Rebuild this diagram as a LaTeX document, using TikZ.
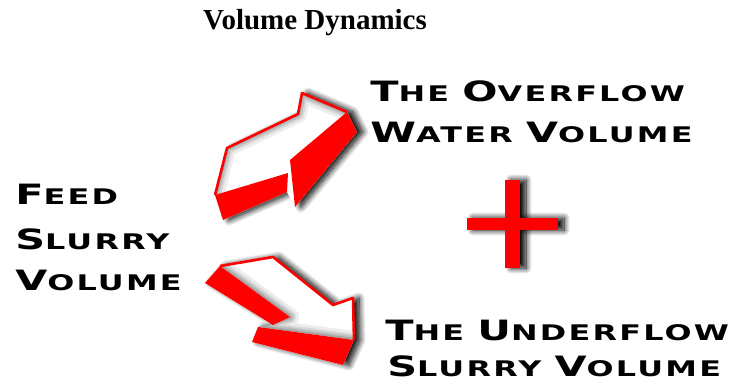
\documentclass[tikz,border=0pt]{standalone}
\usepackage{fontspec}
\setmainfont{Liberation Serif}
\newfontfamily\lblfont[LetterSpace=7]{DejaVu Sans Bold}
\usetikzlibrary{shadows.blur}

\newcommand\scword[2]{{\fontsize{28}{30}\selectfont #1}{\fontsize{21.5}{24}\selectfont #2}}
\newcommand\wgap{\hspace{9pt}}

\tikzset{
  wordline/.style={anchor=base west,inner sep=0pt,xscale=1.48,font=\lblfont},
  soft3d/.style={blur shadow={shadow xshift=6pt,shadow yshift=0pt,shadow blur radius=6pt,shadow blur steps=12,shadow opacity=100}}
}

\begin{document}
\begin{tikzpicture}[x=1pt,y=-1pt]
\useasboundingbox (0,0) rectangle (741,383);

\node[anchor=base west,inner sep=0pt,font=\bfseries\fontsize{29}{30}\selectfont] (title) at (203,29) {Volume Dynamics};

% upper arrow
\coordinate (U1) at (215,195);
\coordinate (U2) at (227,148);
\coordinate (U3) at (298,114);
\coordinate (U4) at (302,93);
\coordinate (U5) at (347,112);
\coordinate (U6) at (290,160);
\coordinate (U7) at (288,173);
\coordinate (U8) at (223,220);
\coordinate (U9) at (287,192);
\coordinate (U10) at (295,207);
\coordinate (U11) at (357,132);

\fill[white,soft3d] (U1)--(U2)--(U3)--(U4)--(U5)--(U11)--(U10)--(U9)--(U8)--cycle;
\fill[white] (U1)--(U2)--(U3)--(U4)--(U5)--(U6)--(U7)--cycle;
\begin{scope}
\clip (U1)--(U2)--(U3)--(U4)--(U5)--(U6)--(U7)--cycle;
\foreach \w/\o in {18/0.07,12/0.09,8/0.11,4/0.14}
  \draw[black,opacity=\o,line width=\w pt,line join=round] (U1)--(U2)--(U3)--(U4)--(U5);
\end{scope}
\draw[red,line width=2.6pt,line join=round] (U1)--(U2)--(U3)--(U4)--(U5);
\fill[red] (U1)--(U7)--(U9)--(U8)--cycle;
\fill[red] (U6)--(U10)--(U11)--(U5)--cycle;

% lower arrow
\coordinate (L1) at (220,266);
\coordinate (L2) at (273,257);
\coordinate (L3) at (333,305);
\coordinate (L4) at (353,298);
\coordinate (L5) at (354,340);
\coordinate (L6) at (258,327);
\coordinate (L7) at (290,317);
\coordinate (L8) at (273,325);
\coordinate (L9) at (205,283);
\coordinate (L10) at (343,365);
\coordinate (L11) at (252,342);

\fill[white,soft3d] (L9)--(L1)--(L2)--(L3)--(L4)--(L5)--(L10)--(L11)--(L6)--(L8)--cycle;
\fill[white] (L1)--(L2)--(L3)--(L4)--(L5)--(L6)--(L7)--cycle;
\begin{scope}
\clip (L1)--(L2)--(L3)--(L4)--(L5)--(L6)--(L7)--cycle;
\foreach \w/\o in {18/0.07,12/0.09,8/0.11,4/0.14}
  \draw[black,opacity=\o,line width=\w pt,line join=round] (L5)--(L6)--(L7)--(L1);
\end{scope}
\draw[red,line width=2.6pt,line join=round] (L1)--(L2)--(L3)--(L4)--(L5);
\fill[red] (L1)--(L7)--(L8)--(L9)--cycle;
\fill[red] (L6)--(L5)--(L10)--(L11)--cycle;

% plus sign
\fill[red,soft3d] (505,180) rectangle (520,268);
\fill[red,soft3d] (467,218) rectangle (558,230);
\fill[red] (505,180) rectangle (520,268);

% words
\node[wordline] (over) at (370,101) {\scword{T}{HE}\wgap\scword{O}{VERFLOW}};
\node[wordline] (water) at (370,142) {\scword{W}{ATER}\wgap\scword{V}{OLUME}};
\node[wordline] (feed) at (15,204) {\scword{F}{EED}};
\node[wordline] (slurry) at (15,249) {\scword{S}{LURRY}};
\node[wordline] (volume) at (15,290) {\scword{V}{OLUME}};
\node[wordline] (under) at (385,340) {\scword{T}{HE}\wgap\scword{U}{NDERFLOW}};
\node[wordline] (uslurry) at (387,376) {\scword{S}{LURRY}\wgap\scword{V}{OLUME}};
\end{tikzpicture}
\end{document}
